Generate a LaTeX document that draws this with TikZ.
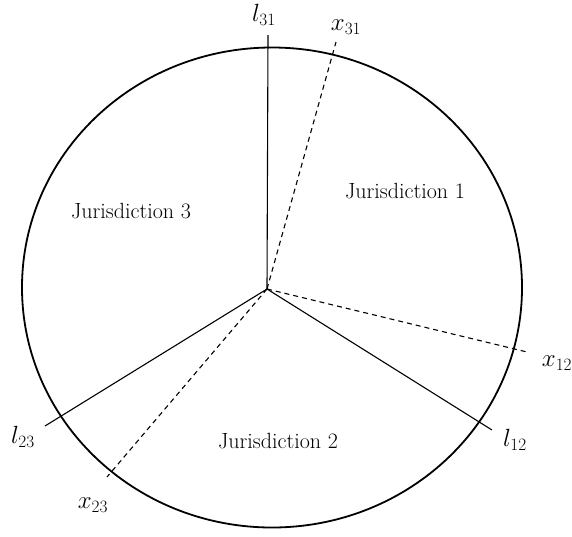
\documentclass[tikz,border=0pt]{standalone}
\begin{document}
\begin{tikzpicture}[x=1pt,y=-1pt,
  spoke/.style={line width=1.1pt},
  dspoke/.style={line width=1.1pt,dash pattern=on 5pt off 4pt},
  rim/.style={line width=1.8pt},
  lab/.style={font=\fontsize{23}{27}\selectfont,inner sep=0pt},
  jur/.style={font=\fontsize{22}{26}\selectfont,inner sep=0pt}]
\useasboundingbox (0,0) rectangle (572,536);
\draw[rim] (272,287.5) ellipse [x radius=250pt, y radius=240pt];
\coordinate (C) at (267,289);
\coordinate (e31l) at (268,35);
\coordinate (e31x) at (336,42);
\coordinate (e12x) at (527,352);
\coordinate (e12l) at (492,430);
\coordinate (e23l) at (45,426);
\coordinate (e23x) at (107,477);
\draw[spoke] (C) -- (e31l);
\draw[dspoke] (C) -- (e31x);
\draw[dspoke] (C) -- (e12x);
\draw[spoke] (C) -- (e12l);
\draw[spoke] (C) -- (e23l);
\draw[dspoke] (C) -- (e23x);
\node[lab] (t31l) at (264,15) {$l_{31}$};
\node[lab] (t31x) at (346,27) {$x_{31}$};
\node[lab] (t12x) at (557,363) {$x_{12}$};
\node[lab] (t12l) at (515,440) {$l_{12}$};
\node[lab] (t23l) at (23,437) {$l_{23}$};
\node[lab] (t23x) at (93,505) {$x_{23}$};
\node[jur] (j1) at (405,191) {Jurisdiction 1};
\node[jur] (j3) at (131,211) {Jurisdiction 3};
\node[jur] (j2) at (278,441) {Jurisdiction 2};
\end{tikzpicture}
\end{document}
